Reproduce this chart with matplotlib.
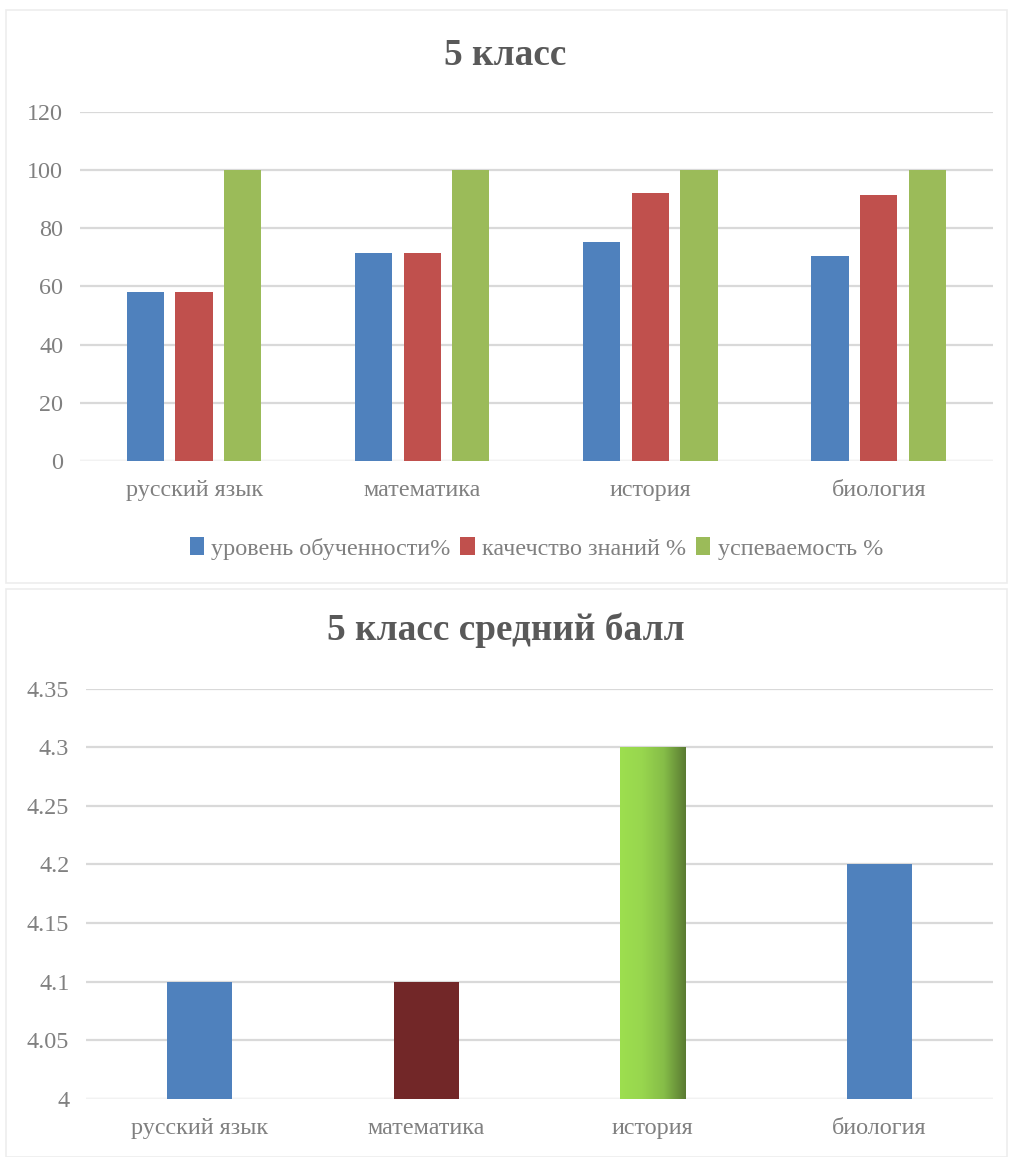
import numpy as np
import matplotlib
matplotlib.use('Agg')
import matplotlib.pyplot as plt
import matplotlib.patches as mpatches
from matplotlib.colors import LinearSegmentedColormap

plt.rcParams['font.family'] = ['Liberation Serif', 'DejaVu Serif']

# ================== Data ==================
subjects = ['русский язык', 'математика', 'история', 'биология']
series_names = ['уровень обученности%', 'качечство знаний %', 'успеваемость %']
level = [58.0, 71.4, 75.4, 70.6]
quality = [58.0, 71.4, 92.2, 91.6]
progress = [100, 100, 100, 100]
top_ticks = [0, 20, 40, 60, 80, 100, 120]

avg_score = [4.1, 4.1, 4.3, 4.2]
bottom_ticks = [4, 4.05, 4.1, 4.15, 4.2, 4.25, 4.3, 4.35]
bottom_ticklabels = ['4', '4.05', '4.1', '4.15', '4.2', '4.25', '4.3', '4.35']

# ================== Style ==================
COLORS = ['#4F81BD', '#C0504D', '#9BBB59']
GRID = '#D9D9D9'
TICK = '#808080'
TITLE = '#595959'
FS = 17.4

fig = plt.figure(figsize=(10.11, 11.57), dpi=100)

# panel frames
for y0, h in [(0.496, 0.495), (0.0, 0.491)]:
  fig.patches.append(mpatches.Rectangle((0.006, y0), 0.99, h, transform=fig.transFigure,
                                        facecolor='white', edgecolor='#EDEDED', lw=1.2, zorder=-10))

def style_axes(ax):
  for s in ax.spines.values():
    s.set_visible(False)
  ax.tick_params(length=0, labelsize=FS, labelcolor=TICK)
  ax.yaxis.grid(True, color=GRID, lw=1.6)
  ax.set_axisbelow(True)
  ax.set_xlim(-0.5, len(subjects) - 0.5)

# ================== Top chart ==================
ax1 = fig.add_axes([0.0791, 0.6016, 0.9029, 0.3016])
x = np.arange(len(subjects))
bw = 0.163
step = 0.213
for k, (vals, name) in enumerate(zip([level, quality, progress], series_names)):
  ax1.bar(x + (k - 1) * step, vals, bw, color=COLORS[k], label=name, zorder=3)
ax1.set_ylim(0, 120)
ax1.set_yticks(top_ticks)
ax1.set_xticks(x)
ax1.set_xticklabels(subjects)
style_axes(ax1)
ax1.axhline(0, color='#F2F2F2', lw=1.6, zorder=2)
ax1.tick_params(axis='x', pad=14)
ax1.tick_params(axis='y', pad=12)
ax1.legend(loc='center', bbox_to_anchor=(0.5, -0.25), ncol=3, frameon=False,
           fontsize=FS, labelcolor=TICK, handlelength=0.6, handleheight=0.8,
           handletextpad=0.3, columnspacing=0.4)
fig.text(0.5, 0.952, '5 класс', ha='center', va='center', fontsize=26.8,
         fontweight='bold', color=TITLE)

# ================== Bottom chart ==================
ax2 = fig.add_axes([0.0851, 0.0504, 0.8969, 0.3544])
bar_colors = ['#4F81BD', '#722728', None, '#4F81BD']
bw2 = 0.287
bars = ax2.bar(x, np.array(avg_score) - 4, bw2, bottom=4,
               color=[c if c else 'none' for c in bar_colors], zorder=3)
ax2.set_ylim(4, 4.35)
ax2.set_yticks(bottom_ticks)
ax2.set_yticklabels(bottom_ticklabels)
ax2.set_xticks(x)
ax2.set_xticklabels(subjects)
style_axes(ax2)
ax2.axhline(4, color='#F2F2F2', lw=1.6, zorder=2)
ax2.tick_params(axis='x', pad=14)
ax2.tick_params(axis='y', pad=12)

# gradient fill for the green bar
cmap = LinearSegmentedColormap.from_list('grn', ['#9DDF4F', '#98D64E', '#86BD48', '#5A7A32'])
for b, c in zip(bars, bar_colors):
  if c is None:
    x0, w = b.get_x(), b.get_width()
    y0, h = b.get_y(), b.get_height()
    img = ax2.imshow(np.linspace(0, 1, 256).reshape(1, -1), cmap=cmap, aspect='auto',
                     extent=(x0, x0 + w, y0, y0 + h), zorder=3)
    img.set_clip_path(b)
ax2.set_xlim(-0.5, len(subjects) - 0.5)
ax2.set_ylim(4, 4.35)
fig.text(0.5, 0.4555, '5 класс средний балл', ha='center', va='center', fontsize=26.8,
         fontweight='bold', color=TITLE)

plt.savefig('out.png', dpi=100)
